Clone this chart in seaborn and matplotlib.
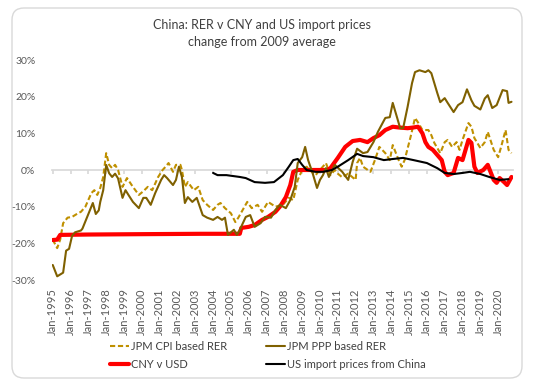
import matplotlib.pyplot as plt
import pandas as pd
import seaborn as sns
from matplotlib.patches import FancyBboxPatch

# x = months since Jan-1995, y = % change from 2009 average
cpi_month = [0, 3, 5, 7, 10, 13, 17, 19, 22, 26, 28, 30, 32, 34, 36, 38, 40, 42, 44, 47,
             50, 54, 58, 61, 64, 67, 71, 74, 76, 78, 81, 83, 86, 87, 89, 91, 95, 98, 101, 104,
             108, 111, 113, 116, 120, 123, 125, 131, 134, 138, 141, 145, 150, 155, 159, 162, 165, 168, 171, 173,
             177, 180, 184, 187, 190, 192, 195, 199, 204, 205, 207, 209, 214, 217, 220, 224, 227, 229, 233, 235,
             237, 241, 244, 246, 249, 253, 255, 257, 261, 264, 266, 269, 272, 274, 276, 280, 282, 284, 288, 291,
             293, 297, 300, 302, 305, 307, 309]
cpi_value = [-19, -21.3, -19, -14.5, -13, -12.8, -11.8, -11.4, -10, -6.3, -5.5, -6.8, -4.9, -1.9, 4.6, 1.4, 0.5, 1.4, 0, -4.6,
             -2.2, -4.6, -6.8, -5.8, -4.6, -5.5, -1.9, 0, 0.9, 1.9, -0.5, 1.4, 1.4, 0, -4.6, -3.3, -5.5, -4.6, -8.2, -9.5,
             -10.9, -9.5, -9, -10.4, -11.8, -14.2, -13, -8.7, -10.4, -9.5, -11.4, -8.7, -10, -9.5, -7.6, -8.2, -2.7, 0, 0.9, 0,
             -1.4, 0, 1.9, -1.4, 0, -1, -2, -1, -2.7, 1.9, 3.3, 0.9, -0.5, 2.7, 6.3, 4.6, 2.7, 6.8, 2.7, 0.9,
             2.7, 9, 14.2, 13, 10.9, 10.9, 9.5, 7.4, 4.6, 7.6, 8.2, 6.3, 7.6, 5.5, 8.2, 12.8, 11.8, 8.7, 6, 7.6,
             10.4, 5.5, 3.5, 6.3, 10.9, 5.5, 4.6]

ppp_month = [0, 3, 7, 9, 11, 13, 15, 19, 20, 22, 24, 27, 29, 31, 32, 34, 36, 38, 40, 42,
             44, 47, 49, 51, 54, 58, 61, 63, 66, 69, 73, 75, 77, 81, 83, 85, 87, 89, 91, 94,
             97, 101, 104, 108, 111, 114, 116, 118, 122, 124, 126, 130, 133, 136, 140, 143, 147, 150, 153, 157,
             160, 163, 165, 168, 170, 172, 175, 178, 180, 182, 184, 186, 190, 195, 199, 202, 205, 209, 212, 216,
             219, 224, 227, 229, 232, 234, 236, 239, 242, 244, 247, 251, 253, 255, 257, 259, 261, 264, 266, 270,
             273, 276, 279, 282, 284, 288, 291, 293, 296, 299, 303, 306, 307, 309]
ppp_value = [-25.9, -29, -28, -22, -21.5, -18, -17, -16.5, -16, -14, -12, -9, -12, -11, -8.7, -5.5, 1.4, -0.9, -1.9, -1,
             -2.3, -7.6, -5.5, -6.8, -8.7, -10.4, -7.6, -7.6, -9.5, -6.3, -2.7, -1.4, -2.2, -4.1, -2.7, 0.9, -1.9, -9, -7.4, -8.7,
             -7.6, -12.3, -13, -13.6, -12.8, -13.6, -13, -17.7, -16.3, -17.7, -16.3, -12.8, -12.3, -15.5, -14.5, -12.8, -13, -10.9, -9.5, -10.4,
             -8.2, -4.6, 1.9, 3.5, 6.3, 2.7, -0.8, -4.9, -2.7, -1.4, 0.5, -1.9, 1.4, -0.5, -2.7, 2.2, 5.8, 4.6, 4.9, 7.6,
             10.4, 14.2, 14.4, 18.3, 14.2, 11.4, 11.4, 17.2, 23.7, 26.7, 27.2, 26.7, 27.2, 26.4, 23.7, 21, 18.5, 19.6, 18.3, 15.8,
             17.7, 18.5, 22, 19, 17.5, 16.5, 19.5, 20.4, 16.9, 17.7, 21.8, 21.5, 18.3, 18.6]

cny_month = [0, 3, 5, 24, 60, 100, 126, 127, 132, 136, 141, 145, 150, 153, 157, 160, 162, 165, 175, 185,
             187, 192, 197, 202, 207, 212, 216, 220, 224, 229, 233, 239, 243, 246, 249, 251, 253, 256, 259, 262,
             264, 266, 270, 273, 276, 280, 282, 284, 286, 290, 293, 297, 299, 301, 304, 306, 309]
cny_value = [-19.1, -19, -17.7, -17.6, -17.5, -17.4, -17.4, -15.8, -15.5, -15, -13.6, -12.8, -11.4, -10, -7.4, -4.1, -0.5, 0, 0, 0,
             0.5, 3.3, 6.3, 7.9, 8.2, 7.6, 8.7, 9.5, 10.9, 11.8, 11.6, 11.4, 11.6, 11.8, 10, 7.6, 6.3, 5.5, 4.1, 2.7,
             -0.5, -1.4, -0.8, 3.3, 2.7, 8.2, 7.4, 0.9, -0.8, 0, 1.4, -2.7, -3.5, -2.2, -3.3, -4.1, -1.9]

usimp_month = [108, 111, 117, 126, 130, 136, 143, 149, 155, 159, 162, 165, 168, 171, 177, 182, 188, 192, 199, 205,
               209, 216, 223, 229, 236, 243, 252, 259, 264, 270, 276, 281, 288, 294, 301, 307]
usimp_value = [-0.8, -1.4, -1.4, -1.9, -2.2, -3.3, -3.5, -3.3, -1.4, 0.9, 2.7, 3, 1.4, 0, -0.5, -0.5, 0, 0.9, 2.7, 4.4,
               3.8, 3.5, 2.7, 3, 3.3, 2.7, 1.9, 0.5, -0.8, -1.1, -0.8, -0.5, -1.1, -1.9, -2.7, -2.5]

years = list(range(1995, 2021))
tick_pos = [12 * (y - 1995) for y in years]
tick_labels = ['Jan-%d' % y for y in years]

sns.set_theme(style='white')
plt.rcParams['font.family'] = ['Lato', 'DejaVu Sans']

fig = plt.figure(figsize=(5.35, 3.87), dpi=100)

# rounded outer frame
bg = fig.add_axes([0, 0, 1, 1], zorder=-1)
bg.set_xlim(0, 535)
bg.set_ylim(387, 0)
bg.axis('off')
bg.add_patch(FancyBboxPatch((12, 8), 510, 370, boxstyle='round,pad=0,rounding_size=12',
                            fc='white', ec='#D9D9D9', lw=1))

ax = fig.add_axes([52 / 535, 1 - 280 / 387, 461 / 535, 220 / 387])
ax.patch.set_alpha(0)

sns.lineplot(x=cpi_month, y=cpi_value, ax=ax, color='#BF9000', lw=1.5,
             linestyle=(0, (2.5, 1.3)), label='JPM CPI based RER')
sns.lineplot(x=cny_month, y=cny_value, ax=ax, color='#FF0000', lw=3, label='CNY v USD')
sns.lineplot(x=ppp_month, y=ppp_value, ax=ax, color='#7F6000', lw=1.5, label='JPM PPP based RER')
sns.lineplot(x=usimp_month, y=usimp_value, ax=ax, color='black', lw=1.5,
             label='US import prices from China')

ax.set_xlim(-0.5, 310)
ax.set_ylim(-30, 30)
ax.set_yticks(range(-30, 31, 10))
ax.set_yticklabels(['%d%%' % v for v in range(-30, 31, 10)])
ax.set_xticks(tick_pos)
ax.set_xticklabels(tick_labels, rotation=90)
ax.tick_params(axis='both', length=0, labelsize=7.5, labelcolor='#595959')
ax.tick_params(axis='x', labelsize=8, pad=6)
ax.tick_params(axis='y', pad=12)
for s in ax.spines.values():
    s.set_visible(False)

# zero line with tick marks
sec = ax.secondary_xaxis(0.5)
sec.set_xticks(tick_pos)
sec.set_xticklabels([])
sec.tick_params(length=3, color='#D9D9D9', direction='in')
for s in sec.spines.values():
    s.set_color('#D9D9D9')
ax.set_xlabel('')
ax.set_ylabel('')

fig.text(0.49, 1 - 25 / 387, 'China: RER v CNY and US import prices', ha='center', va='center',
         fontsize=9, color='#404040')
fig.text(0.49, 1 - 42 / 387, 'change from 2009 average', ha='center', va='center',
         fontsize=9, color='#404040')

handles, labels = ax.get_legend_handles_labels()
ax.get_legend().remove()
fig.legend(handles, labels, loc='upper left', bbox_to_anchor=(100 / 535, 1 - 331 / 387), ncol=2,
           frameon=False, fontsize=8, handlelength=1.7, handletextpad=0.2, columnspacing=3.5,
           labelspacing=0.6, labelcolor='#404040')

fig.savefig('out.png', dpi=100)
